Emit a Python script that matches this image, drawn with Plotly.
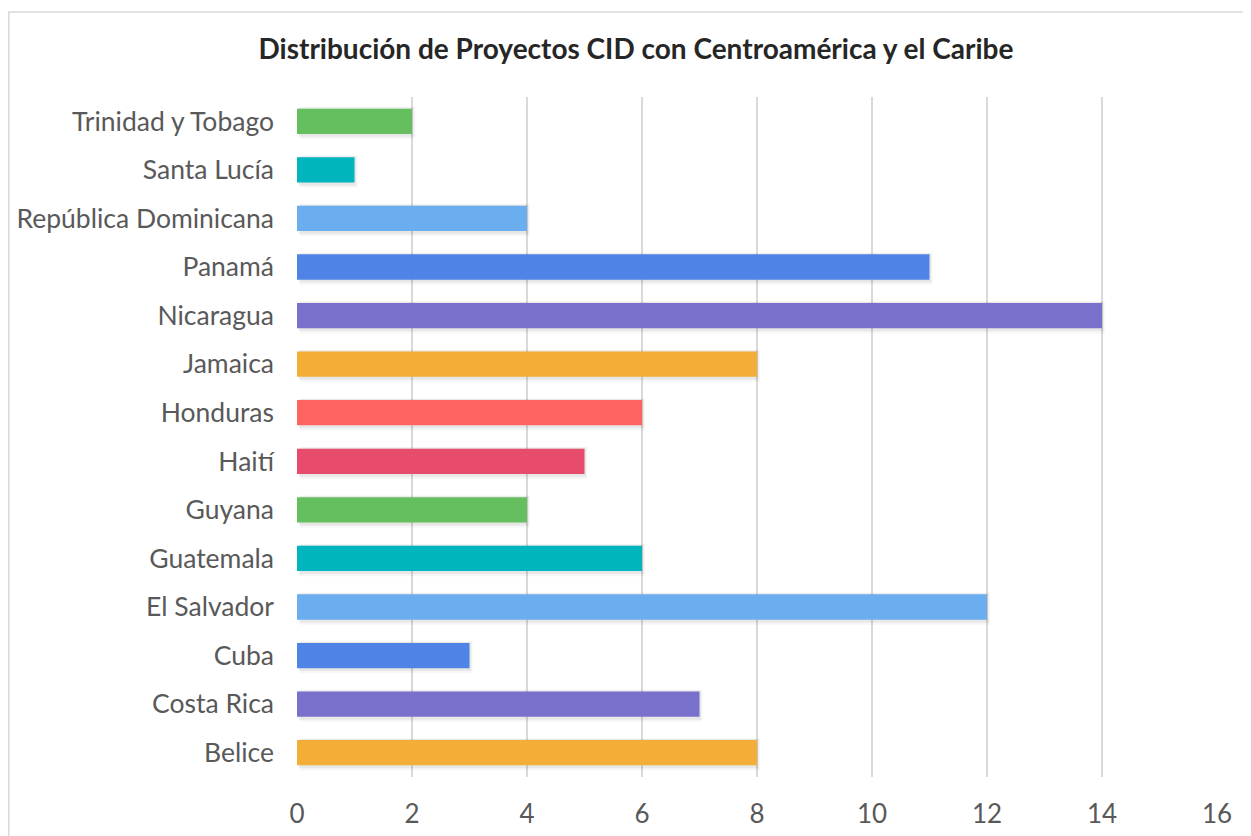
import plotly.graph_objects as go

countries = ["Belice", "Costa Rica", "Cuba", "El Salvador", "Guatemala", "Guyana",
             "Haití", "Honduras", "Jamaica", "Nicaragua", "Panamá",
             "República Dominicana", "Santa Lucía", "Trinidad y Tobago"]
projects = [8, 7, 3, 12, 6, 4, 5, 6, 8, 14, 11, 4, 1, 2]
colors = ["#F4AD36", "#7870CB", "#4F83E6", "#6AAEF0", "#00B5BD", "#66BF5F",
          "#E84C6D", "#FF6360", "#F4AD36", "#7870CB", "#4F83E6", "#6AAEF0",
          "#00B5BD", "#66BF5F"]
x_ticks = [0, 2, 4, 6, 8, 10, 12, 14, 16]
title_text = "Distribución de Proyectos CID con Centroamérica y el Caribe"

FONT = "Lato"
# page has an 8px body margin; figure coordinates are offset by it
W, H = 1243, 828
L, R, T, B = 289, 34, 89, 59
BW = 0.52  # bar thickness in category units

fig = go.Figure()
# soft drop shadow (two faint layers behind each bar)
for grow, alpha, shift in [(0.14, 0.035, 0.05), (0.08, 0.06, 0.03)]:
    fig.add_trace(go.Bar(
        x=projects, y=countries, orientation="h",
        base=[shift] * len(projects),
        width=BW + grow, offset=-(BW + grow) / 2 - grow / 4,
        marker=dict(color="rgba(0,0,0,%.3f)" % alpha, line=dict(width=0)),
        hoverinfo="skip",
    ))
fig.add_trace(go.Bar(
    x=projects, y=countries, orientation="h",
    width=BW, offset=-BW / 2,
    marker=dict(color=colors, line=dict(width=0)),
    hoverinfo="x+y",
))

pw = W - L - R
ph = H - T - B
fig.add_shape(type="rect", xref="paper", yref="paper",
              x0=(0.8 - L) / pw, x1=(W + 5 - L) / pw,
              y0=-(B + 5) / ph, y1=(H - B - 4) / ph,
              line=dict(color="#D9D9D9", width=1.5), fillcolor="rgba(0,0,0,0)",
              layer="below")

fig.update_layout(
    width=W, height=H,
    margin=dict(l=L, r=R, t=T, b=B, autoexpand=False),
    paper_bgcolor="white", plot_bgcolor="white",
    barmode="overlay",
    showlegend=False,
    title=dict(text="<b>" + title_text + "</b>", x=(636 - 8) / W, xanchor="center",
               y=1 - (49 - 8) / H, yanchor="middle",
               font=dict(family=FONT, size=28, color="#262626")),
    xaxis=dict(range=[0, 16], tickvals=x_ticks, showgrid=True,
               gridcolor="#D9D9D9", gridwidth=1.5, zeroline=False,
               showline=False, ticks="", automargin=False,
               tickfont=dict(family=FONT, size=26, color="#595959"),
               ticklabelstandoff=19, fixedrange=True),
    yaxis=dict(showgrid=False, zeroline=False, showline=False, ticks="",
               automargin=False,
               tickfont=dict(family=FONT, size=26.5, color="#595959"),
               ticklabelstandoff=22, range=[-0.5, 13.5]),
)

fig.write_html("out.html")
